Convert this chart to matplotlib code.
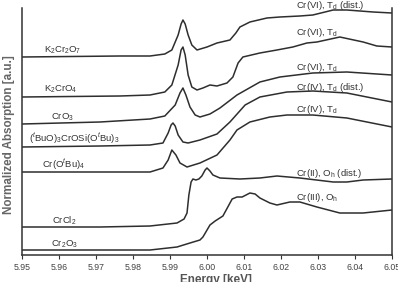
import numpy as np
import matplotlib
matplotlib.use("Agg")
import matplotlib.pyplot as plt

plt.rcParams['font.family'] = ['Liberation Sans', 'DejaVu Sans']
plt.rcParams['mathtext.fontset'] = 'custom'
plt.rcParams['mathtext.rm'] = 'Liberation Sans'
plt.rcParams['mathtext.it'] = 'Liberation Sans:italic'
plt.rcParams['mathtext.bf'] = 'Liberation Sans:bold'
plt.rcParams['mathtext.default'] = 'regular'

# energy [keV] / normalized absorption [a.u.], stacked with offsets
e_k2cr2o7 = [5.9500, 5.9765, 5.9846, 5.9886, 5.9905, 5.9922, 5.9930, 5.9935, 5.9941, 5.9949, 5.9959, 5.9973,
             6.0000, 6.0027, 6.0062, 6.0078, 6.0089, 6.0116, 6.0162, 6.0197, 6.0251, 6.0286, 6.0341, 6.0378,
             6.0449, 6.0500]
a_k2cr2o7 = [1.98, 1.99, 1.99, 2.01, 2.05, 2.20, 2.31, 2.35, 2.31, 2.20, 2.10, 2.05,
             2.08, 2.12, 2.15, 2.22, 2.28, 2.33, 2.37, 2.38, 2.39, 2.40, 2.45, 2.45,
             2.43, 2.42]

e_k2cro4 = [5.9500, 5.9765, 5.9846, 5.9886, 5.9905, 5.9922, 5.9930, 5.9935, 5.9941, 5.9949, 5.9959, 5.9973,
            5.9989, 6.0008, 6.0027, 6.0054, 6.0070, 6.0084, 6.0097, 6.0143, 6.0189, 6.0232, 6.0270, 6.0297,
            6.0359, 6.0422, 6.0459, 6.0500]
a_k2cro4 = [1.58, 1.59, 1.60, 1.63, 1.70, 1.90, 2.05, 2.08, 2.00, 1.80, 1.68, 1.65,
            1.67, 1.70, 1.69, 1.72, 1.78, 1.92, 1.98, 2.02, 2.05, 2.08, 2.12, 2.13,
            2.18, 2.13, 2.09, 2.08]

e_cro3 = [5.9500, 5.9711, 5.9846, 5.9886, 5.9914, 5.9927, 5.9935, 5.9943, 5.9954, 5.9968, 5.9981, 6.0008,
          6.0035, 6.0081, 6.0143, 6.0197, 6.0286, 6.0378, 6.0500]
a_cro3 = [1.31, 1.33, 1.36, 1.39, 1.50, 1.62, 1.67, 1.60, 1.48, 1.40, 1.38, 1.41,
          1.47, 1.60, 1.73, 1.78, 1.82, 1.83, 1.80]

e_siloxy = [5.9500, 5.9711, 5.9846, 5.9881, 5.9895, 5.9903, 5.9908, 5.9914, 5.9922, 5.9935, 5.9949, 5.9981,
            6.0027, 6.0062, 6.0103, 6.0143, 6.0216, 6.0286, 6.0378, 6.0500]
a_siloxy = [1.08, 1.09, 1.10, 1.12, 1.22, 1.30, 1.32, 1.29, 1.20, 1.13, 1.12, 1.15,
            1.21, 1.33, 1.50, 1.58, 1.63, 1.64, 1.62, 1.53]

e_alkoxide = [5.9500, 5.9711, 5.9846, 5.9881, 5.9895, 5.9905, 5.9916, 5.9927, 5.9946, 5.9981, 6.0027, 6.0062,
              6.0081, 6.0116, 6.0170, 6.0216, 6.0286, 6.0378, 6.0500]
a_alkoxide = [0.83, 0.83, 0.83, 0.87, 0.95, 1.05, 1.00, 0.92, 0.88, 0.92, 1.00, 1.15,
              1.25, 1.33, 1.38, 1.40, 1.40, 1.37, 1.28]

e_crcl2 = [5.9500, 5.9711, 5.9846, 5.9919, 5.9938, 5.9946, 5.9951, 5.9957, 5.9962, 5.9970, 5.9978, 5.9986,
           5.9995, 6.0000, 6.0008, 6.0016, 6.0035, 6.0089, 6.0143, 6.0189, 6.0251, 6.0341, 6.0378, 6.0422,
           6.0500]
a_crcl2 = [0.28, 0.28, 0.29, 0.32, 0.36, 0.42, 0.60, 0.73, 0.76, 0.75, 0.76, 0.79,
           0.85, 0.87, 0.84, 0.80, 0.77, 0.76, 0.77, 0.79, 0.77, 0.73, 0.73, 0.75,
           0.76]

e_cr2o3 = [5.9500, 5.9711, 5.9846, 5.9919, 5.9954, 5.9981, 5.9989, 6.0008, 6.0022, 6.0043, 6.0068, 6.0081,
           6.0095, 6.0116, 6.0130, 6.0143, 6.0170, 6.0189, 6.0224, 6.0251, 6.0297, 6.0359, 6.0422, 6.0500]
a_cr2o3 = [0.05, 0.05, 0.05, 0.08, 0.12, 0.15, 0.18, 0.30, 0.34, 0.39, 0.56, 0.58,
           0.58, 0.62, 0.61, 0.57, 0.52, 0.50, 0.53, 0.53, 0.48, 0.42, 0.42, 0.45]

# sample names (left) and oxidation state / geometry (right)
samples = [r'K$_2$Cr$_2$O$_7$', r'K$_2$CrO$_4$', r'CrO$_3$',
           r'($^\mathit{t}$BuO)$_3$CrOSi(O$^\mathit{t}$Bu)$_3$', r'Cr(O$^\mathit{t}$Bu)$_4$',
           r'CrCl$_2$', r'Cr$_2$O$_3$']
states = [r'Cr(VI), T$_d$ (dist.)', r'Cr(VI), T$_d$', r'Cr(VI), T$_d$', r'Cr(IV), T$_d$ (dist.)',
          r'Cr(IV), T$_d$', r'Cr(II), O$_h$ (dist.)', r'Cr(III), O$_h$']
sample_x = [5.9611, 5.9605, 5.9608, 5.9640, 5.9611, 5.9614, 5.9614]
sample_y = [2.05, 1.66, 1.38, 1.16, 0.90, 0.34, 0.11]
state_x = 6.0241
state_y = [2.50, 2.22, 1.88, 1.68, 1.45, 0.82, 0.57]

energies = [e_k2cr2o7, e_k2cro4, e_cro3, e_siloxy, e_alkoxide, e_crcl2, e_cr2o3]
spectra = [a_k2cr2o7, a_k2cro4, a_cro3, a_siloxy, a_alkoxide, a_crcl2, a_cr2o3]

fig = plt.figure(figsize=(3.98, 2.82), dpi=100)
ax = fig.add_axes([22/398, 27/282, 370/398, 247/282])

for e, a in zip(energies, spectra):
    ax.plot(e, a, color='#2e2e2e', lw=1.1)

for name, x, y in zip(samples, sample_x, sample_y):
    ax.text(x, y, name, ha='center', va='center', fontsize=6.8, color='#333333')
for st, y in zip(states, state_y):
    ax.text(state_x, y, st, ha='left', va='center', fontsize=6.8, color='#333333', clip_on=False)

ax.set_xlim(5.95, 6.05)
ax.set_ylim(0, 2.47)
ax.set_xticks(np.arange(5.95, 6.0501, 0.01))
ax.set_xticklabels(['%.2f' % v for v in np.arange(5.95, 6.0501, 0.01)])
ax.set_yticks([])
ax.spines['top'].set_visible(False)
for s in ['left', 'right', 'bottom']:
    ax.spines[s].set_color('#333333')
    ax.spines[s].set_linewidth(1.1)
ax.tick_params(axis='x', direction='out', length=3, width=0.8, colors='#333333',
               labelsize=6.3, labelcolor='#444444', pad=3)

ax.set_xlabel('Energy [keV]', fontsize=8.5, fontweight='bold', color='#555555')
ax.xaxis.set_label_coords(0.524, -0.075)
ax.set_ylabel('Normalized Absorption [a.u.]', fontsize=8.4, fontweight='bold', color='#666666')
ax.yaxis.set_label_coords(-0.018, 0.486)

fig.savefig('out.png', dpi=100)
